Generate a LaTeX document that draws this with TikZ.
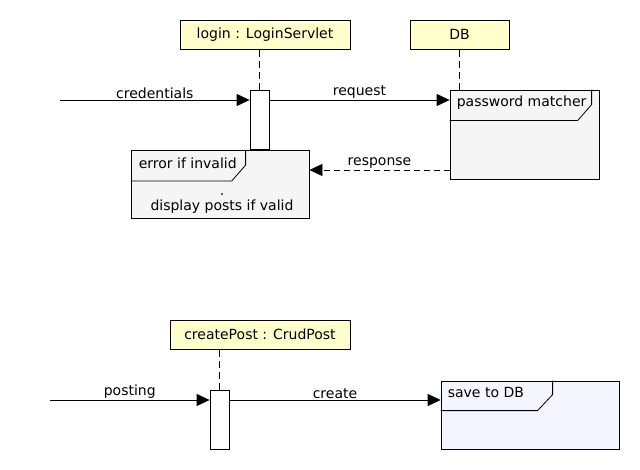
\documentclass[tikz,border=0pt]{standalone}
\usepackage{fontspec}
\setmainfont{DejaVu Sans}
\usetikzlibrary{arrows.meta,calc}
\definecolor{objyellow}{HTML}{FFFFCC}
\definecolor{framegray}{HTML}{F5F5F5}
\definecolor{framelav}{HTML}{F5F5FF}
\tikzset{
  objbox/.style={draw, fill=objyellow, inner sep=0pt, line width=0.8pt},
  actbox/.style={draw, fill=white, inner sep=0pt, minimum width=19pt, minimum height=59pt, line width=0.8pt},
  framebox/.style={draw, inner sep=0pt, line width=0.8pt},
  lifeline/.style={draw, line width=0.8pt, dash pattern=on 7pt off 4pt},
  msg/.style={draw, line width=0.8pt, -{Triangle[length=13pt,width=12pt]}},
  reply/.style={draw, line width=0.8pt, dash pattern=on 6pt off 4pt, -{Triangle[length=13pt,width=12pt]}},
  lbl/.style={above, inner sep=1pt},
  ftext/.style={anchor=west, inner sep=0pt}
}
\begin{document}
\begin{tikzpicture}[x=1pt, y=-1pt, font=\fontsize{14}{16}\selectfont]
\useasboundingbox (0,0) rectangle (640,470);
\fill[white] (0,0) rectangle (640,470);

% objects
\node[objbox, minimum width=170pt, minimum height=29pt] (login) at (265,34.5) {login : LoginServlet};
\node[objbox, minimum width=99pt, minimum height=29pt] (db) at (459.5,34.5) {DB};
\node[objbox, minimum width=180pt, minimum height=29pt] (cp) at (260,334.5) {createPost : CrudPost};

% activations
\node[actbox] (act1) at (259.5,119.5) {};
\node[actbox] (act2) at (219.5,419.5) {};

% frames
\node[framebox, fill=framegray, minimum width=149pt, minimum height=89pt] (pm) at (524.5,134.5) {};
\node[framebox, fill=framegray, minimum width=178pt, minimum height=68pt] (err) at (220,184.5) {};
\node[framebox, fill=framelav, minimum width=178pt, minimum height=68pt] (save) at (530,415) {};

% frame headers
\draw[line width=0.8pt] ($(pm.north west)+(0,31)$) -- ++(128,0) -- ++(14,-16) -- ++(0,-15);
\draw[line width=0.8pt] ($(err.north west)+(0,31)$) -- ++(101,0) -- ++(14,-16) -- ++(0,-15);
\draw[line width=0.8pt] ($(save.north west)+(0,30)$) -- ++(97,0) -- ++(15,-16) -- ++(0,-14);

\node[ftext] (pmt) at ($(pm.north west)+(7,13)$) {password matcher};
\node[ftext] (errt) at ($(err.north west)+(8,13)$) {error if invalid};
\node[ftext] (savet) at ($(save.north west)+(7,12)$) {save to DB};
\node[inner sep=0pt, anchor=base] (errdot) at (222,195.5) {.};
\node[inner sep=0pt, anchor=base] (errbody) at (222,210.5) {display posts if valid};

% lifelines
\path[lifeline] (act1.north) -- (act1.north |- login.south);
\path[lifeline] (pm.north -| db.south) -- (db.south);
\path[lifeline] (act2.north) -- (act2.north |- cp.south);

% messages
\coordinate (c0) at (60,100);
\coordinate (ry) at (0,170);
\coordinate (p0) at (50,400);
\path[msg] (c0) -- node[lbl] (credl) {credentials} (c0 -| act1.west);
\path[msg] (c0 -| act1.east) -- node[lbl] (reql) {request} (c0 -| pm.west);
\path[reply] (ry -| pm.west) -- node[lbl] (resl) {response} (ry -| err.east);
\path[msg] (p0) -- node[lbl] (postl) {posting} (p0 -| act2.west);
\path[msg] (p0 -| act2.east) -- node[lbl] (crl) {create} (p0 -| save.west);
\end{tikzpicture}
\end{document}
